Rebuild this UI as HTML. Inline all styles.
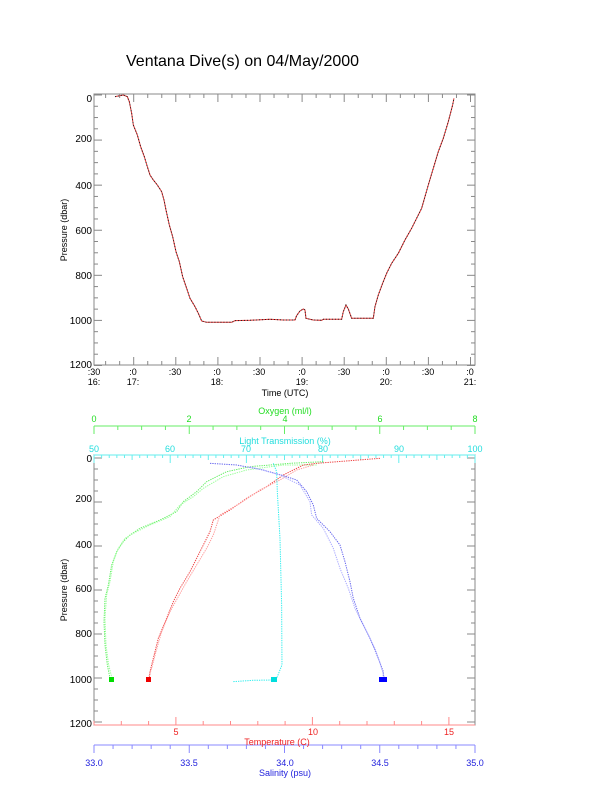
<!DOCTYPE html>
<html><head><meta charset="utf-8"><style>
html,body{margin:0;padding:0;background:#fff;}
svg{display:block;font-family:"Liberation Sans",sans-serif;}
</style></head><body>
<svg id="s" width="612" height="785" viewBox="0 0 612 785" xmlns="http://www.w3.org/2000/svg">
<rect width="612" height="785" fill="#fff"/>
<text x="126" y="66" font-size="16" fill="#000">Ventana Dive(s) on 04/May/2000</text>

<!-- TOP PLOT -->
<rect x="94" y="94" width="381" height="271" fill="none" stroke="#888" stroke-width="1"/>
<g id="topticks" stroke="#888" stroke-width="1"></g>
<g font-size="10" fill="#000" text-anchor="end">
<text x="92" y="102">0</text><text x="92" y="142">200</text><text x="92" y="189">400</text>
<text x="92" y="234">600</text><text x="92" y="279">800</text><text x="92" y="324">1000</text><text x="92" y="368">1200</text>
</g>
<g font-size="9" fill="#000" text-anchor="middle">
<text x="94" y="375">:30</text><text x="94" y="385">16:</text>
<text x="133" y="375">:0</text><text x="133" y="385">17:</text>
<text x="175" y="375">:30</text>
<text x="217" y="375">:0</text><text x="217" y="385">18:</text>
<text x="259" y="375">:30</text>
<text x="302" y="375">:0</text><text x="302" y="385">19:</text>
<text x="344" y="375">:30</text>
<text x="386" y="375">:0</text><text x="386" y="385">20:</text>
<text x="428" y="375">:30</text>
<text x="470" y="375">:0</text><text x="470" y="385">21:</text>
<text x="285" y="396" font-size="9">Time (UTC)</text>
</g>
<text transform="translate(67,230) rotate(-90)" font-size="9" text-anchor="middle">Pressure (dbar)</text>

<g transform="translate(50,85) scale(0.3333)" fill="none" stroke-width="3">
<polyline stroke="#d33" points="195,35 220,30 232,35 238,50 245,85 250,120 262,150 272,185 283,215 292,245 300,270 310,285 322,300 335,320 342,345 348,375 358,420 368,455 378,500 388,530 398,575 410,610 420,640 435,665 445,685 455,708 470,712 545,712 555,707 600,706 660,703 700,705 735,705 740,692 750,678 760,672 765,675 768,700 790,705 815,706 820,703 875,703 880,680 888,660 895,672 905,700 970,700 975,665 985,630 998,595 1010,565 1025,535 1045,505 1065,465 1085,430 1100,400 1115,370 1135,300 1150,250 1165,200 1180,160 1195,110 1208,60 1212,40"/>
<polyline stroke="#222" stroke-dasharray="3,6" points="195,35 220,30 232,35 238,50 245,85 250,120 262,150 272,185 283,215 292,245 300,270 310,285 322,300 335,320 342,345 348,375 358,420 368,455 378,500 388,530 398,575 410,610 420,640 435,665 445,685 455,708 470,712 545,712 555,707 600,706 660,703 700,705 735,705 740,692 750,678 760,672 765,675 768,700 790,705 815,706 820,703 875,703 880,680 888,660 895,672 905,700 970,700 975,665 985,630 998,595 1010,565 1025,535 1045,505 1065,465 1085,430 1100,400 1115,370 1135,300 1150,250 1165,200 1180,160 1195,110 1208,60 1212,40"/>
</g>

<!-- BOTTOM PLOT -->
<rect x="94" y="455" width="381" height="270" fill="none" stroke="#888" stroke-width="1"/>
<g id="botticks" stroke-width="1"></g>
<line x1="94" y1="426" x2="475" y2="426" stroke="#6e6"/>
<line x1="94" y1="455" x2="475" y2="455" stroke="#6ee"/>
<line x1="94" y1="725" x2="475" y2="725" stroke="#f88"/>
<line x1="94" y1="745" x2="475" y2="745" stroke="#88f"/>
<g font-size="10" fill="#000" text-anchor="end">
<text x="92" y="462">0</text><text x="92" y="502">200</text><text x="92" y="548">400</text>
<text x="92" y="592">600</text><text x="92" y="637">800</text><text x="92" y="683">1000</text><text x="92" y="727">1200</text>
</g>
<text transform="translate(67,590) rotate(-90)" font-size="9" text-anchor="middle">Pressure (dbar)</text>
<g font-size="9" fill="#2d2" text-anchor="middle">
<text x="285" y="414">Oxygen (ml/l)</text>
<text x="94" y="422">0</text><text x="189" y="422">2</text><text x="285" y="422">4</text><text x="380" y="422">6</text><text x="475" y="422">8</text>
</g>
<g font-size="9" fill="#2dd" text-anchor="middle">
<text x="285" y="444">Light Transmission (%)</text>
<text x="94" y="452">50</text><text x="170" y="452">60</text><text x="246" y="452">70</text><text x="323" y="452">80</text><text x="399" y="452">90</text><text x="475" y="452">100</text>
</g>
<g font-size="9" fill="#e22" text-anchor="middle">
<text x="176" y="735">5</text><text x="313" y="735">10</text><text x="449" y="735">15</text>
<text x="277" y="745">Temperature (C)</text>
</g>
<g font-size="9" fill="#22d" text-anchor="middle">
<text x="94" y="766">33.0</text><text x="189" y="766">33.5</text><text x="285" y="766">34.0</text><text x="380" y="766">34.5</text><text x="475" y="766">35.0</text>
<text x="285" y="776">Salinity (psu)</text>
</g>

<g transform="translate(50,405) scale(0.3333)" fill="none" stroke-width="3" stroke-dasharray="4,3">
<polyline stroke="#6e6" points="820,170 720,175 600,185 530,200 470,230 440,260 400,290 380,320 330,345 270,370 240,390 220,410 200,440 185,480 175,540 165,580 162,650 165,720 172,780 180,820 185,830"/>
<polyline stroke="#9f9" points="800,180 700,180 590,195 520,215 460,250 430,275 390,300 360,335 300,360 250,385 225,400 205,430 190,470 180,530 170,570 165,640 168,720 176,780 186,820"/>
<polyline stroke="#e44" points="990,160 800,175 760,180 700,210 650,245 590,280 540,315 490,345 480,380 470,400 450,440 420,500 390,550 370,590 350,640 325,700 310,760 300,800 298,825"/>
<polyline stroke="#f99" points="790,180 740,195 690,225 630,255 570,295 510,330 500,360 490,390 470,430 440,480 410,530 385,575 360,620 335,680 318,740 305,790 295,820"/>
<polyline stroke="#3ee" points="670,175 680,200 682,260 690,400 695,600 696,780 680,820 675,825"/>
<polyline stroke="#3ee" points="550,830 610,826 675,825"/>
<polyline stroke="#66e" points="480,175 560,180 640,195 700,212 740,225 770,260 790,300 800,340 840,380 870,420 885,470 900,530 910,580 930,640 960,700 985,760 1000,800 1000,825"/>
<polyline stroke="#aaf" points="600,185 690,210 750,240 780,290 785,330 820,370 850,430 870,490 895,550 915,610 945,670 975,730 995,790 1005,825"/>
</g>
<g fill="#00f"><rect x="379" y="677" width="8" height="5"/></g>
<g fill="#0d0"><rect x="109" y="677" width="5" height="5"/></g>
<g fill="#e00"><rect x="146" y="677" width="5" height="5"/></g>
<g fill="#0dd"><rect x="271" y="677" width="6" height="5"/></g>
</svg>
<script>
(function(){
var ns="http://www.w3.org/2000/svg";
function L(g,x1,y1,x2,y2,c){var l=document.createElementNS(ns,"line");l.setAttribute("x1",x1);l.setAttribute("y1",y1);l.setAttribute("x2",x2);l.setAttribute("y2",y2);if(c)l.setAttribute("stroke",c);g.appendChild(l);}
var t=document.getElementById("topticks");
for(var p=0;p<=1200;p+=50){var y=95+p*0.2254;var len=(p%200==0)?8:4;L(t,94,y,94+len,y);L(t,475,y,475-len,y);}
for(var m=0;m<=270;m+=10){var x=91.6+m*84.2/60;if(x<94||x>475)continue;var len=(m%30==0)?8:4;L(t,x,365,x,365-len);L(t,x,94,x,94+len);}
var b=document.getElementById("botticks");
for(var p=0;p<=1200;p+=50){var y=458+p*0.22;var len=(p%200==0)?8:4;L(b,94,y,94+len,y,"#888");L(b,475,y,475-len,y,"#888");}
for(var o=0;o<=8;o+=0.5){var x=94+o*381/8;L(b,x,426,x,426+((o%2==0)?8:4),"#6e6");}
for(var lt=50;lt<=100;lt+=1){var x=94+(lt-50)*381/50;L(b,x,455,x,455+((lt%10==0)?8:(lt%5==0?5:3)),"#6ee");}
for(var T=2;T<=15.9;T+=1){var x=94+(T-2)*27.3;L(b,x,725,x,725-((T%5==0)?8:4),"#f88");}
for(var s=0;s<=20;s++){var x=94+s*381/20;L(b,x,745,x,745+((s%5==0)?8:4),"#88f");}
})();
</script>
</body></html>
